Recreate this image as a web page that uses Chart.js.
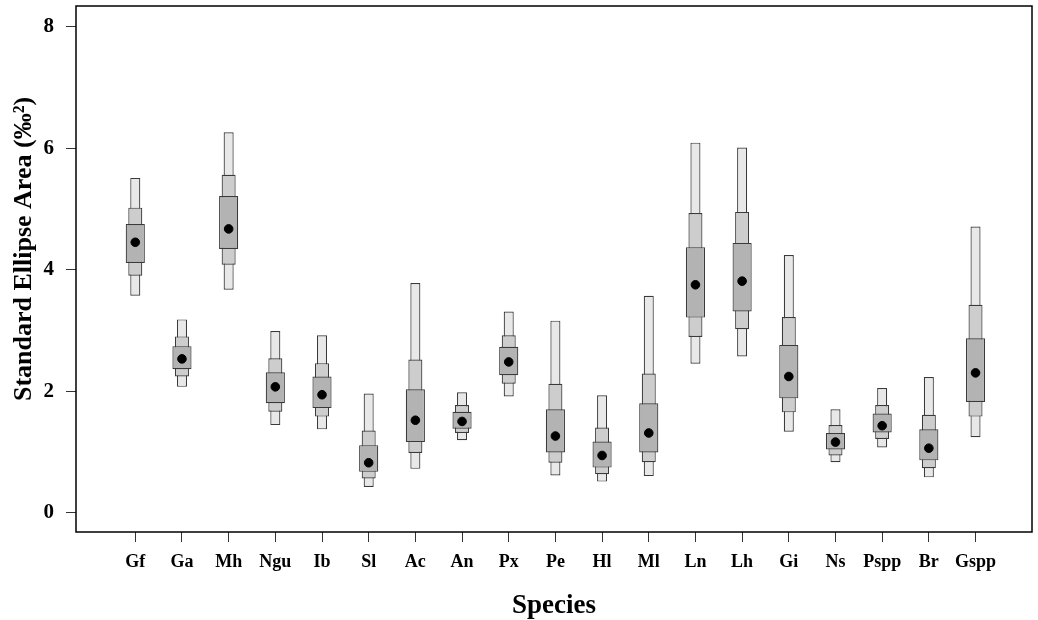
<!DOCTYPE html>
<html>
<head>
<meta charset="utf-8">
<script src="https://cdn.jsdelivr.net/npm/chart.js@4/dist/chart.umd.min.js"></script>
<style>
  html, body { margin: 0; padding: 0; background: #fff; }
  #wrap { width: 1038px; height: 620px; }
</style>
</head>
<body>
<div id="wrap"><canvas id="ellipseChart" width="1038" height="620"></canvas></div>
<script>
const species = ["Gf", "Ga", "Mh", "Ngu", "Ib", "Sl", "Ac", "An", "Px", "Pe", "Hl", "Ml", "Ln", "Lh", "Gi", "Ns", "Pspp", "Br", "Gspp"];
const modes = [4.45, 2.53, 4.67, 2.07, 1.94, 0.82, 1.52, 1.50, 2.48, 1.26, 0.94, 1.31, 3.75, 3.81, 2.24, 1.16, 1.43, 1.06, 2.30];
const lo50 = [4.11, 2.36, 4.34, 1.80, 1.72, 0.67, 1.16, 1.38, 2.26, 0.99, 0.74, 0.99, 3.21, 3.31, 1.88, 1.04, 1.32, 0.86, 1.82];
const hi50 = [4.75, 2.74, 5.21, 2.31, 2.24, 1.11, 2.03, 1.66, 2.73, 1.70, 1.17, 1.80, 4.37, 4.44, 2.76, 1.31, 1.63, 1.37, 2.87];
const lo75 = [3.90, 2.24, 4.08, 1.66, 1.58, 0.56, 0.98, 1.31, 2.12, 0.82, 0.63, 0.83, 2.89, 3.02, 1.65, 0.94, 1.21, 0.73, 1.58];
const hi75 = [5.02, 2.90, 5.56, 2.54, 2.46, 1.35, 2.52, 1.77, 2.92, 2.12, 1.40, 2.29, 4.93, 4.95, 3.22, 1.44, 1.77, 1.61, 3.42];
const lo95 = [3.57, 2.07, 3.67, 1.44, 1.37, 0.42, 0.72, 1.19, 1.91, 0.61, 0.51, 0.60, 2.45, 2.57, 1.33, 0.83, 1.07, 0.58, 1.24];
const hi95 = [5.51, 3.18, 6.26, 2.99, 2.92, 1.96, 3.78, 1.98, 3.31, 3.16, 1.93, 3.57, 6.09, 6.01, 4.24, 1.70, 2.05, 2.23, 4.71];
const yTicks = [0, 2, 4, 6, 8];
const yTitle = "Standard Ellipse Area (‰²)";

const serif = "'Liberation Serif', 'DejaVu Serif', serif";

function ranges(lo, hi) {
    return species.map((s, i) => ({ x: i, y: [lo[i], hi[i]] }));
}

// box around the plot region (like R's box()) and the y title, which sits a bit above centre
const frame = {
    id: "frame",
    afterDraw(chart) {
        const a = chart.chartArea;
        const ctx = chart.ctx;
        ctx.save();
        ctx.strokeStyle = "#000";
        ctx.lineWidth = 1.5;
        ctx.strokeRect(a.left, a.top, a.right - a.left, a.bottom - a.top);

        ctx.translate(31, 249);
        ctx.rotate(-Math.PI / 2);
        ctx.fillStyle = "#000";
        ctx.font = "bold 26px " + serif;
        ctx.textAlign = "center";
        ctx.textBaseline = "alphabetic";
        ctx.fillText(yTitle, 0, 0);
        ctx.restore();
    }
};

function boxSet(label, lo, hi, fill, width, order) {
    return {
        type: "bar",
        label: label,
        data: ranges(lo, hi),
        backgroundColor: fill,
        borderColor: "#3a3a3a",
        borderWidth: 1.2,
        borderSkipped: false,
        grouped: false,
        barPercentage: width,
        categoryPercentage: 1,
        order: order
    };
}

const ctx = document.getElementById("ellipseChart").getContext("2d");
new Chart(ctx, {
    type: "bar",
    data: {
        datasets: [
            {
                type: "scatter",
                label: "Mode",
                data: species.map((s, i) => ({ x: i, y: modes[i] })),
                pointRadius: 4.3,
                pointBackgroundColor: "#000",
                pointBorderColor: "#000",
                order: 0
            },
            boxSet("50%", lo50, hi50, "#b3b3b3", 0.41, 1),
            boxSet("75%", lo75, hi75, "#cdcdcd", 0.30, 2),
            boxSet("95%", lo95, hi95, "#e8e8e8", 0.215, 3)
        ]
    },
    options: {
        responsive: false,
        animation: false,
        layout: { padding: { top: 6, right: 6, left: 0, bottom: 0 } },
        plugins: {
            legend: { display: false },
            tooltip: { enabled: false }
        },
        scales: {
            x: {
                type: "linear",
                offset: false,
                min: -1.27,
                max: 19.21,
                afterBuildTicks: scale => { scale.ticks = species.map((s, i) => ({ value: i })); },
                afterFit: scale => {
                    scale.height = 88;
                    scale.paddingLeft = 0;
                    scale.paddingRight = 0;
                },
                ticks: {
                    autoSkip: false,
                    maxRotation: 0,
                    padding: 10,
                    color: "#000",
                    font: { family: serif, size: 18, weight: "bold" },
                    callback: v => species[v]
                },
                grid: { offset: false, drawOnChartArea: false, tickLength: 10, color: "#333", lineWidth: 1 },
                border: { display: false },
                title: {
                    display: true,
                    text: "Species",
                    color: "#000",
                    font: { family: serif, size: 27, weight: "bold" },
                    padding: { top: 6, bottom: -2 }
                }
            },
            y: {
                min: -0.32,
                max: 8.34,
                afterBuildTicks: scale => { scale.ticks = yTicks.map(v => ({ value: v })); },
                afterFit: scale => {
                    scale.width = 76;
                    scale.paddingTop = 0;
                    scale.paddingBottom = 0;
                },
                ticks: {
                    padding: 12,
                    color: "#000",
                    font: { family: serif, size: 21, weight: "bold" }
                },
                grid: { drawOnChartArea: false, tickLength: 10, color: "#333", lineWidth: 1 },
                border: { display: false },
                title: { display: false }
            }
        }
    },
    plugins: [frame]
});
</script>
</body>
</html>
